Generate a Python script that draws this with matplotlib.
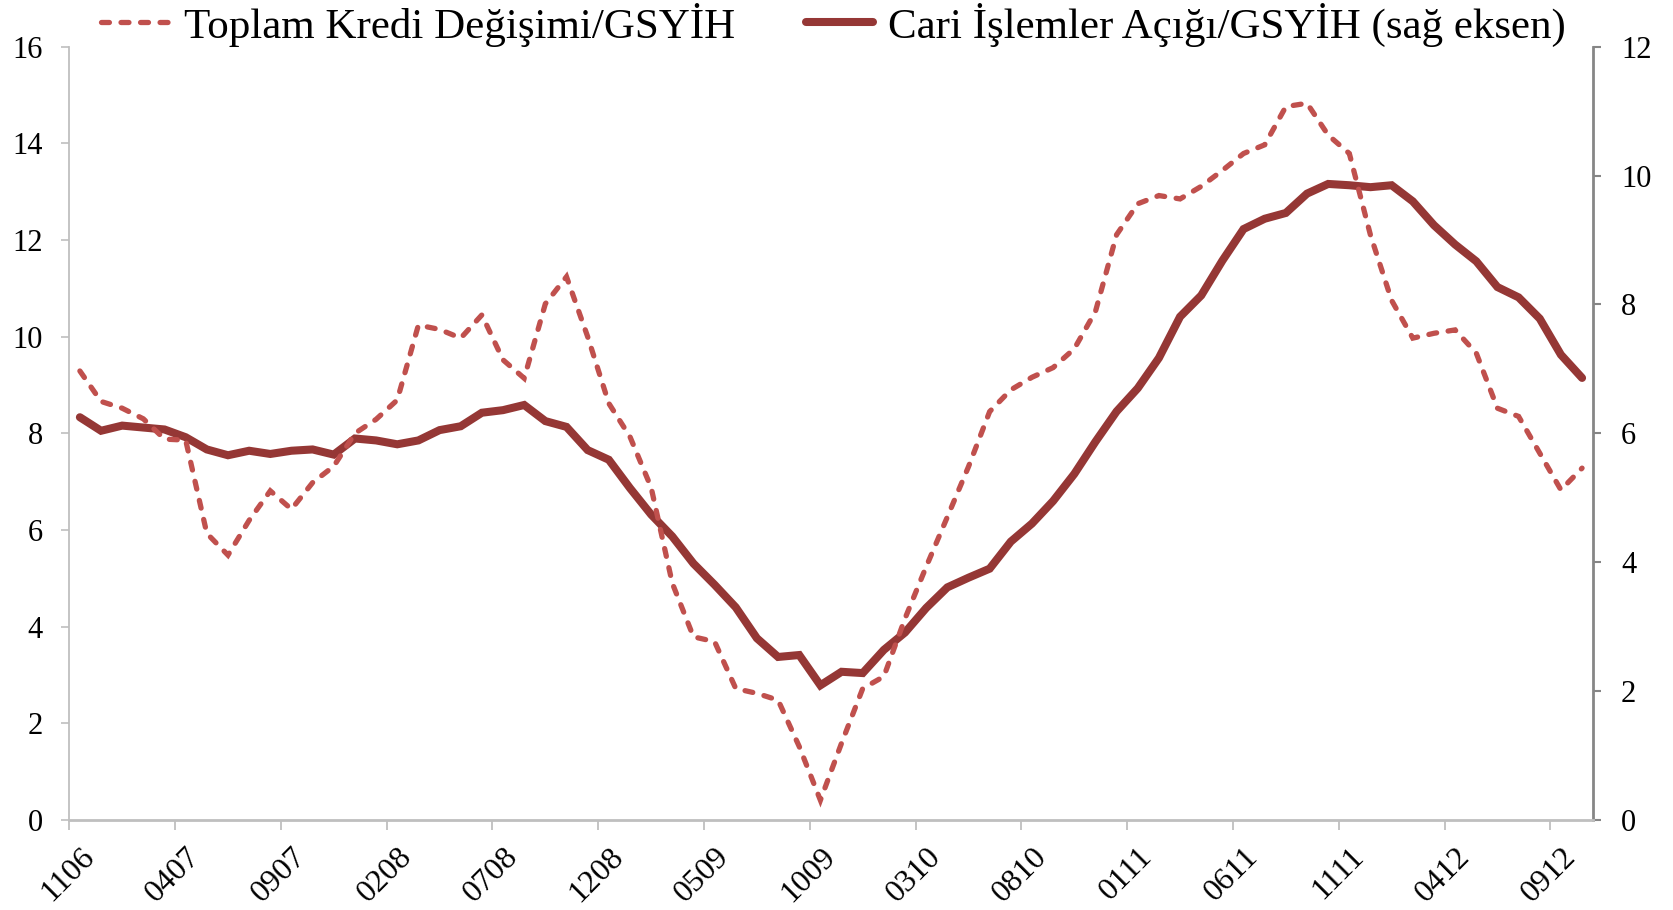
import matplotlib
matplotlib.use("Agg")
import matplotlib.pyplot as plt
import pandas as pd
from matplotlib.lines import Line2D

# ---- data -------------------------------------------------------------
categories = list(pd.period_range("2006-11", periods=72, freq="M").strftime("%m%y"))

kredi_gsyih = [9.29, 8.66, 8.52, 8.30, 7.88, 7.86, 5.93, 5.48, 6.20, 6.81,
               6.43, 6.98, 7.32, 8.00, 8.29, 8.69, 10.24, 10.15, 9.97, 10.45,
               9.52, 9.14, 10.68, 11.24, 10.00, 8.62, 7.93, 6.88, 4.90, 3.79,
               3.69, 2.72, 2.62, 2.48, 1.52, 0.41, 1.59, 2.72, 2.97, 4.17,
               5.24, 6.27, 7.31, 8.45, 8.90, 9.16, 9.36, 9.75, 10.52, 12.11,
               12.75, 12.92, 12.85, 13.11, 13.44, 13.79, 13.97, 14.76, 14.83, 14.17,
               13.79, 12.10, 10.75, 9.97, 10.07, 10.14, 9.66, 8.52, 8.35, 7.59,
               6.83, 7.28]

cari_acik_gsyih = [6.25, 6.04, 6.12, 6.09, 6.06, 5.94, 5.75, 5.66, 5.73, 5.68,
                   5.73, 5.75, 5.67, 5.92, 5.89, 5.83, 5.89, 6.05, 6.11, 6.32,
                   6.36, 6.44, 6.19, 6.10, 5.74, 5.59, 5.15, 4.74, 4.40, 3.98,
                   3.65, 3.30, 2.82, 2.53, 2.56, 2.09, 2.30, 2.28, 2.64, 2.91,
                   3.29, 3.61, 3.76, 3.90, 4.32, 4.60, 4.95, 5.37, 5.87, 6.34,
                   6.70, 7.17, 7.81, 8.14, 8.68, 9.17, 9.33, 9.42, 9.72, 9.87,
                   9.85, 9.82, 9.85, 9.60, 9.23, 8.93, 8.67, 8.27, 8.11, 7.78,
                   7.22, 6.86]

series_names = ["Toplam Kredi Değişimi/GSYİH", "Cari İşlemler Açığı/GSYİH (sağ eksen)"]
left_ticks = [0, 2, 4, 6, 8, 10, 12, 14, 16]
right_ticks = [0, 2, 4, 6, 8, 10, 12]
label_step = 5

# ---- style --------------------------------------------------------------
plt.rcParams["font.family"] = ["Liberation Serif", "DejaVu Serif"]
TICK_FS = 22
XTICK_FS = 23
LEG_FS = 31
c_dash = "#C0504D"
c_solid = "#953735"
LW_DASH = 3.8
LW_SOLID = 5.8
DASHES = (1.5, 2.2)

fig = plt.figure(figsize=(16.74, 9.10), dpi=100)
ax = fig.add_axes([0.0414, 0.0989, 0.9100, 0.8498])
ax2 = ax.twinx()
ax.set_zorder(2)
ax.patch.set_visible(False)

x = list(range(len(categories)))
l2, = ax2.plot(x, cari_acik_gsyih, color=c_solid, lw=LW_SOLID, solid_capstyle="round",
               solid_joinstyle="miter")
l1, = ax.plot(x, kredi_gsyih, color=c_dash, lw=LW_DASH, dashes=DASHES,
              dash_capstyle="round", dash_joinstyle="miter")

ax.set_xlim(-0.5, len(categories) - 0.5)
ax.set_ylim(left_ticks[0], left_ticks[-1])
ax2.set_ylim(right_ticks[0], right_ticks[-1])

ax.set_yticks(left_ticks)
ax.set_yticklabels([str(t) for t in left_ticks], fontsize=TICK_FS)
ax2.set_yticks(right_ticks)
ax2.set_yticklabels([str(t) for t in right_ticks], fontsize=TICK_FS)

# x: tick marks on category boundaries, labels at category centres
bounds = [i - 0.5 for i in range(0, len(categories), label_step)]
ax.set_xticks(bounds)
ax.set_xticklabels([""] * len(bounds))
lab_pos = list(range(0, len(categories), label_step))
ax.set_xticks(lab_pos, minor=True)
ax.set_xticklabels([categories[i] for i in lab_pos], minor=True, fontsize=XTICK_FS,
                   rotation=45, ha="right", va="top", rotation_mode="anchor")
ax.tick_params(axis="x", which="major", length=7, width=1.3, color="#BFBFBF", direction="out")
ax.tick_params(axis="x", which="minor", length=0, pad=16)

ax.tick_params(axis="y", length=6, width=1.2, color="#BFBFBF", pad=13)
ax2.tick_params(axis="y", length=5.5, width=1.5, color="#868686", pad=15)

for s in ["top", "right"]:
    ax.spines[s].set_visible(False)
ax.spines["left"].set_color("#BFBFBF")
ax.spines["left"].set_linewidth(1.3)
ax.spines["bottom"].set_color("#BFBFBF")
ax.spines["bottom"].set_linewidth(2)
for s in ["top", "left", "bottom"]:
    ax2.spines[s].set_visible(False)
ax2.spines["right"].set_color("#868686")
ax2.spines["right"].set_linewidth(2)

h1 = Line2D([], [], color=c_dash, lw=LW_DASH, dashes=DASHES, dash_capstyle="round")
h2 = Line2D([], [], color=c_solid, lw=LW_SOLID, solid_capstyle="round")
fig.legend([h1, h2], series_names, loc="center left", bbox_to_anchor=(0.0603, 0.973),
           ncol=2, frameon=False, fontsize=LEG_FS, handlelength=1.55,
           handletextpad=0.37, columnspacing=1.65, borderpad=0, borderaxespad=0)

fig.savefig("out.png", dpi=100)
